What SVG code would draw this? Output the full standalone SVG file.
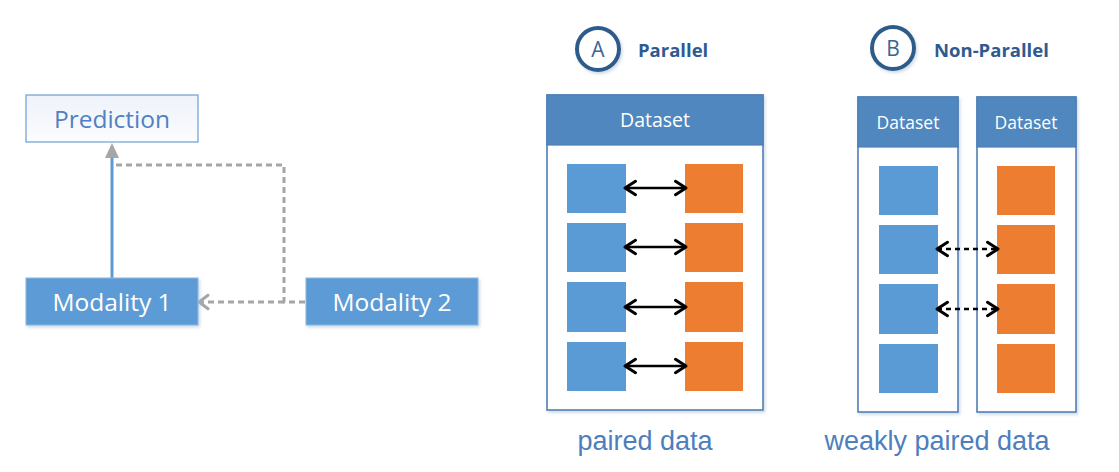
<svg xmlns="http://www.w3.org/2000/svg" width="1119" height="472" viewBox="0 0 1119 472">
<defs>
<style>
.t{font-family:"Open Sans","Liberation Sans",sans-serif}
.mod{fill:#5b9bd5;stroke:#8db7e0;stroke-width:1}
.modt{fill:#fff;font-size:24.5px;text-anchor:middle}
.ds{fill:#fff;stroke:#4f7fb5;stroke-width:1.6}
.hd{fill:#4f87be;stroke:#4f7fb5;stroke-width:1.2}
.hdt{fill:#fff;text-anchor:middle}
.bl{fill:#5b9bd5}
.or{fill:#ed7d31}
.circ{fill:#fff;stroke:#2e5c8a;stroke-width:4}
.ct{fill:#3b6496;font-size:21px;text-anchor:middle}
.ttl{fill:#2f5a8f;font-size:18.5px;font-weight:bold}
.lab{font-family:"Liberation Sans",Arial,sans-serif;fill:#4d7ebd;font-size:27px;text-anchor:middle}
.pa{stroke:#000;stroke-width:2.5;fill:none}
.da{stroke:#000;stroke-width:2.5;fill:none;stroke-dasharray:5,4}
.gd{stroke:#a6a6a6;stroke-width:3;fill:none;stroke-dasharray:6,4}
</style>
<linearGradient id="pg" x1="0" y1="0" x2="0" y2="1">
<stop offset="0" stop-color="#eef2fa"/><stop offset="1" stop-color="#fbfcfe"/>
</linearGradient>
<filter id="sh" x="-10%" y="-10%" width="130%" height="130%">
<feDropShadow dx="1.5" dy="2" stdDeviation="1.5" flood-color="#9fb6d3" flood-opacity="0.5"/>
</filter>
<marker id="ch" viewBox="0 0 10 10" refX="9" refY="5" markerWidth="15" markerHeight="15" orient="auto-start-reverse" markerUnits="userSpaceOnUse" overflow="visible">
<path d="M2,0.5 L9,5 L2,9.5" fill="none" stroke="#000" stroke-width="2" stroke-linecap="round" stroke-linejoin="round"/>
</marker>
<marker id="gch" viewBox="0 0 10 10" refX="9" refY="5" markerWidth="15" markerHeight="15" orient="auto" markerUnits="userSpaceOnUse" overflow="visible">
<path d="M3,0.5 L9,5 L3,9.5" fill="none" stroke="#a6a6a6" stroke-width="2" stroke-linecap="round" stroke-linejoin="round"/>
</marker>
</defs>

<g id="connectors">
<line x1="112" y1="278" x2="112" y2="157" stroke="#5b9bd5" stroke-width="3"/>
<path class="gd" d="M305,302 L284,302 L284,165 L116,165"/>
<line class="gd" x1="284" y1="302" x2="199" y2="302" marker-end="url(#gch)"/>
<polygon points="112,143 105,158 119,158" fill="#a6a6a6"/>
</g>

<g id="prediction">
<rect x="26" y="95" width="172" height="47" fill="url(#pg)" stroke="#6a9fd4" stroke-width="1.2"/>
<text class="t" x="112" y="128" fill="#4f81c2" font-size="24.5" text-anchor="middle">Prediction</text>
</g>
<g id="modality1">
<rect class="mod" x="26" y="278" width="172" height="47" filter="url(#sh)"/>
<text class="t modt" x="112" y="311">Modality 1</text>
</g>
<g id="modality2">
<rect class="mod" x="306" y="278" width="172" height="47" filter="url(#sh)"/>
<text class="t modt" x="392" y="311">Modality 2</text>
</g>

<g id="panelA-title">
<circle class="circ" cx="598" cy="49" r="21" filter="url(#sh)"/>
<text class="t ct" x="598" y="57">A</text>
<text class="t ttl" x="638" y="57">Parallel</text>
</g>
<g id="datasetA">
<rect class="ds" x="547" y="95" width="216" height="315" filter="url(#sh)"/>
<rect class="hd" x="547" y="95" width="216" height="50"/>
<text class="t hdt" x="655" y="127" font-size="19.5">Dataset</text>
<rect class="bl" x="567" y="164" width="59" height="49"/>
<rect class="bl" x="567" y="223" width="59" height="49"/>
<rect class="bl" x="567" y="282" width="59" height="50"/>
<rect class="bl" x="567" y="342" width="59" height="49"/>
<rect class="or" x="685" y="164" width="58" height="49"/>
<rect class="or" x="685" y="223" width="58" height="49"/>
<rect class="or" x="685" y="282" width="58" height="50"/>
<rect class="or" x="685" y="342" width="58" height="49"/>
</g>
<g id="pairsA">
<line class="pa" x1="625" y1="188" x2="686" y2="188" marker-start="url(#ch)" marker-end="url(#ch)"/>
<line class="pa" x1="625" y1="247" x2="686" y2="247" marker-start="url(#ch)" marker-end="url(#ch)"/>
<line class="pa" x1="625" y1="307" x2="686" y2="307" marker-start="url(#ch)" marker-end="url(#ch)"/>
<line class="pa" x1="625" y1="366" x2="686" y2="366" marker-start="url(#ch)" marker-end="url(#ch)"/>
</g>
<text id="labelA" class="lab" x="645" y="450">paired data</text>

<g id="panelB-title">
<circle class="circ" cx="893" cy="48" r="21" filter="url(#sh)"/>
<text class="t ct" x="893" y="56">B</text>
<text class="t ttl" x="934" y="57">Non-Parallel</text>
</g>
<g id="datasetB1">
<rect class="ds" x="858" y="97" width="100" height="315" filter="url(#sh)"/>
<rect class="hd" x="858" y="97" width="100" height="50"/>
<text class="t hdt" x="908" y="129" font-size="17.5">Dataset</text>
<rect class="bl" x="879" y="166" width="59" height="49"/>
<rect class="bl" x="879" y="225" width="59" height="49"/>
<rect class="bl" x="879" y="284" width="59" height="50"/>
<rect class="bl" x="879" y="344" width="59" height="49"/>
</g>
<g id="datasetB2">
<rect class="ds" x="977" y="97" width="99" height="315" filter="url(#sh)"/>
<rect class="hd" x="977" y="97" width="99" height="50"/>
<text class="t hdt" x="1026" y="129" font-size="17.5">Dataset</text>
<rect class="or" x="997" y="166" width="58" height="49"/>
<rect class="or" x="997" y="225" width="58" height="49"/>
<rect class="or" x="997" y="284" width="58" height="50"/>
<rect class="or" x="997" y="344" width="58" height="49"/>
</g>
<g id="pairsB">
<line class="da" x1="937" y1="249" x2="998" y2="249" marker-start="url(#ch)" marker-end="url(#ch)"/>
<line class="da" x1="937" y1="309" x2="998" y2="309" marker-start="url(#ch)" marker-end="url(#ch)"/>
</g>
<text id="labelB" class="lab" x="937" y="450">weakly paired data</text>
</svg>
